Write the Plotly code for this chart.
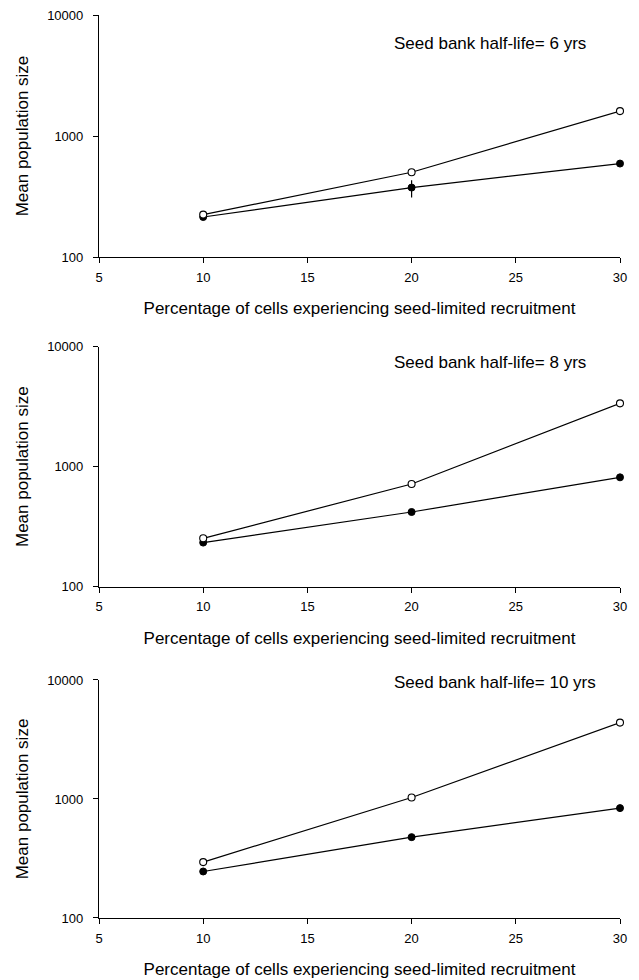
import plotly.graph_objects as go

x_pct = [10, 20, 30]
half_lives = ["6", "8", "10"]

# open circles (upper series) and filled circles (lower series), per panel
open_6 = [224, 502, 1606]
filled_6 = [214, 375, 592]
open_8 = [253, 717, 3371]
filled_8 = [233, 419, 815]
open_10 = [295, 1030, 4385]
filled_10 = [246, 478, 838]

# error bars on filled series (only visible one in panel 1)
filled_6_err_plus = [0, 56, 0]
filled_6_err_minus = [0, 65, 0]

x_ticks = [5, 10, 15, 20, 25, 30]
y_ticks = [100, 1000, 10000]
y_ticktext = ["100", "1000", "10000"]

panels = [
    (open_6, filled_6, filled_6_err_plus, filled_6_err_minus),
    (open_8, filled_8, None, None),
    (open_10, filled_10, None, None),
]

FONT = "Liberation Sans, Arial, sans-serif"
fig = go.Figure()

domains = [[0.7320, 1.0], [0.3669, 0.6327], [0.0, 0.2636]]
ann_y = [3.765, 3.864, 3.975]

for i, (op, fl, ep, em) in enumerate(panels):
    n = "" if i == 0 else str(i + 1)
    xa = "x" + n
    ya = "y" + n
    err = None
    if ep is not None:
        err = dict(type="data", array=ep, arrayminus=em, visible=True,
                   color="black", thickness=1.2, width=0)
    fig.add_trace(go.Scatter(
        x=x_pct, y=fl, mode="lines+markers", xaxis=xa, yaxis=ya,
        line=dict(color="black", width=1.2),
        marker=dict(symbol="circle", size=7, color="black",
                    line=dict(color="black", width=1)),
        error_y=err, cliponaxis=False, showlegend=False))
    fig.add_trace(go.Scatter(
        x=x_pct, y=op, mode="lines+markers", xaxis=xa, yaxis=ya,
        line=dict(color="black", width=1.2),
        marker=dict(symbol="circle", size=7, color="white",
                    line=dict(color="black", width=1.1)),
        cliponaxis=False, showlegend=False))

    xkey = "xaxis" + n
    ykey = "yaxis" + n
    fig.update_layout(**{
        xkey: dict(
            domain=[0, 1], anchor=ya, range=[5, 30], automargin=False,
            tickmode="array", tickvals=x_ticks,
            ticks="outside", ticklen=5, tickwidth=1, tickcolor="black",
            ticklabelstandoff=3,
            showline=True, linecolor="black", linewidth=1.2,
            showgrid=False, zeroline=False,
            tickfont=dict(family=FONT, size=13, color="black"),
            title=dict(text="Percentage of cells experiencing seed-limited recruitment",
                       font=dict(family=FONT, size=17, color="black"),
                       standoff=18),
        ),
        ykey: dict(
            domain=domains[i], anchor=xa, type="log", range=[2, 4], automargin=False,
            tickmode="array", tickvals=y_ticks, ticktext=y_ticktext,
            ticks="outside", ticklen=5, tickwidth=1, tickcolor="black",
            ticklabelstandoff=7,
            showline=True, linecolor="black", linewidth=1.2,
            showgrid=False, zeroline=False,
            tickfont=dict(family=FONT, size=13, color="black"),
            title=dict(text="Mean population size",
                       font=dict(family=FONT, size=17, color="black"),
                       standoff=14),
        ),
    })
    label = "Seed bank half-life= " + half_lives[i] + " yrs"
    fig.add_annotation(
        x=19.06, y=ann_y[i], xref=xa, yref=ya, text=label,
        showarrow=False, xanchor="left", yanchor="middle",
        font=dict(family=FONT, size=17, color="black"))

fig.update_layout(
    width=639, height=980,
    margin=dict(l=99, r=19, t=15, b=62),
    paper_bgcolor="white", plot_bgcolor="white",
    font=dict(family=FONT, color="black"),
)

fig.write_html("out.html")
